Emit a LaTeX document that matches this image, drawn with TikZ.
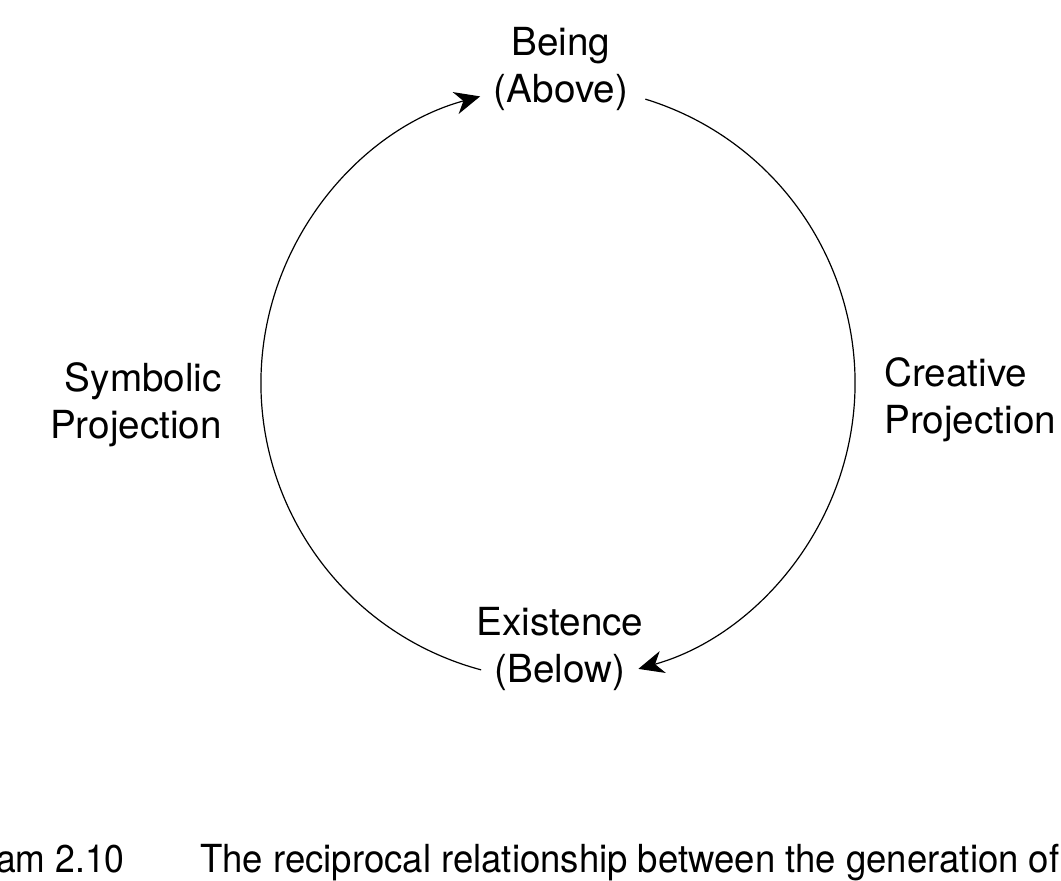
\documentclass[tikz,border=0pt]{standalone}
\usepackage{fontspec}
\setmainfont{TeX Gyre Heros}
\usepackage{tikz}
\usetikzlibrary{arrows.meta, positioning}

\begin{document}
\begin{tikzpicture}[x=0.75pt, y=0.75pt,
    label text/.style={inner sep=0pt, font=\fontsize{29}{35}\selectfont},
    flow/.style={line width=0.9pt, -{Stealth[length=19pt, width=17pt, inset=6pt]}}]
    \useasboundingbox (0,0) rectangle (1061,881);

    % the cycle
    \coordinate (ctr) at (558,498);
    \node[label text, align=center] (being) at (561,812) {Being\\(Above)};
    \node[label text, align=center] (existence) at (560,232) {Existence\\(Below)};
    \node[label text, align=right, anchor=east] (symbolic) at (222,476) {Symbolic\\Projection};
    \node[label text, align=left, anchor=west] (creative) at (884,481) {Creative\\Projection};

    \draw[flow] ([shift={(255:297)}]ctr) arc[start angle=255, end angle=105.2, radius=297];
    \draw[flow] ([shift={(72.9:297)}]ctr) arc[start angle=72.9, end angle=-74.3, radius=297];

    % caption, cut by the page edge
    \node[label text, anchor=base east] (capnum) at (125,8) {\scalebox{0.92}[1]{am 2.10}};
    \node[label text, anchor=base west] (captext) at (200,8) {\scalebox{0.945}[1]{The reciprocal relationship between the generation of}};
\end{tikzpicture}
\end{document}
